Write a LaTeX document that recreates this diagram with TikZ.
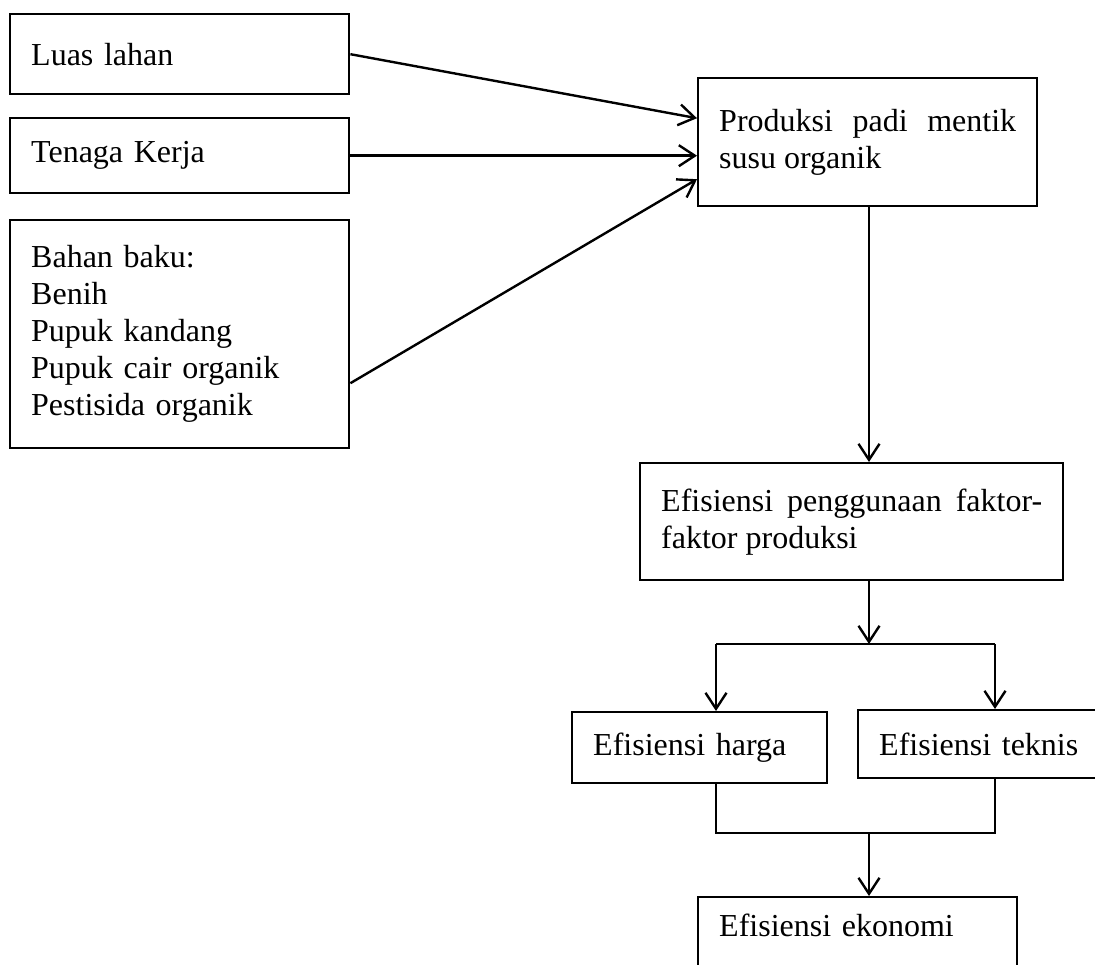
\documentclass[tikz,border=0pt]{standalone}
\usepackage{fontspec}
\setmainfont{Liberation Serif}
\usetikzlibrary{arrows.meta}

\begin{document}
\begin{tikzpicture}[x=1pt, y=-1pt,
	kotak/.style={draw, line width=2.4pt, anchor=north west, inner xsep=21pt, inner ysep=0pt, align=left, font=\fontsize{32}{37}\selectfont},
	garis/.style={line width=2.4pt},
	panah/.style={line width=2.4pt, -{Straight Barb[length=16pt, width=21pt]}}]
	\useasboundingbox (0,0) rectangle (1095,965);
	\clip (0,0) rectangle (1095,965);

	% Faktor-faktor produksi
	\node[kotak, text width=297pt, minimum height=80pt] (luas) at (9,13) {Luas lahan};
	\node[kotak, text width=297pt, minimum height=75pt] (tenaga) at (9,117) {Tenaga Kerja};
	\node[kotak, text width=297pt, minimum height=228pt] (bahan) at (9,219) {Bahan baku:\\Benih\\Pupuk kandang\\Pupuk cair organik\\Pestisida organik};

	% Produksi
	\node[kotak, text width=297pt, minimum height=128pt, align=justify] (produksi) at (697,77) {Produksi padi mentik susu organik};
	\node[kotak, text width=381pt, minimum height=117pt, align=justify] (guna) at (639,462) {Efisiensi penggunaan faktor-faktor produksi};

	% Efisiensi
	\node[kotak, text width=213pt, minimum height=71pt] (harga) at (571,711) {Efisiensi harga};
	\node[kotak, text width=210pt, minimum height=68pt] (teknis) at (857,709) {Efisiensi teknis};
	\node[kotak, text width=277pt, inner ysep=17pt, text height=22pt, text depth=60pt] (ekonomi) at (697,896) {Efisiensi ekonomi};

	% Titik cabang
	\coordinate (cabang) at (869,644);
	\coordinate (kiri) at (716,644);
	\coordinate (kanan) at (995,644);
	\coordinate (gabung) at (869,833);
	\coordinate (gabkiri) at (716,833);
	\coordinate (gabkanan) at (995,833);

	% Panah masukan
	\draw[panah] (luas.east) -- ([yshift=24pt]produksi.west);
	\draw[panah] (tenaga.east) -- (tenaga.east -| produksi.west);
	\draw[panah] ([yshift=-49pt]bahan.east) -- ([yshift=-37pt]produksi.west);

	% Panah ke bawah
	\draw[panah] (produksi.south -| cabang) -- (guna.north -| cabang);
	\draw[panah] (guna.south -| cabang) -- (cabang);
	\draw[garis] (kiri) -- (kanan);
	\draw[panah] (kiri) -- (kiri |- harga.north);
	\draw[panah] (kanan) -- (kanan |- teknis.north);
	\draw[garis] (harga.south -| kiri) -- (gabkiri) -- (gabkanan) -- (teknis.south -| kanan);
	\draw[panah] (gabung) -- (gabung |- ekonomi.north);
\end{tikzpicture}
\end{document}
